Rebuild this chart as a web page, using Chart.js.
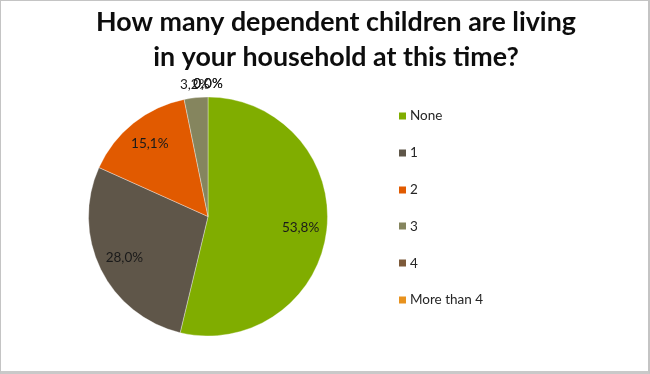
<!DOCTYPE html>
<html>
<head>
<meta charset="utf-8">
<script src="https://cdn.jsdelivr.net/npm/chart.js@4.4.1/dist/chart.umd.min.js"></script>
<style>
  html, body { margin: 0; padding: 0; background: #ffffff; }
  #wrap { position: absolute; left: 0; top: 0; width: 650px; height: 374px; }
  #c { position: absolute; left: 0; top: 0; }
  #frame { position: absolute; left: 0; top: 0; width: 650px; height: 374px; box-sizing: border-box;
           border-left: 1px solid #c4c4c4; border-top: 1px solid #c4c4c4;
           border-right: 2px solid #c4c4c4; border-bottom: 3px solid #c9c9c9; pointer-events: none; }
</style>
</head>
<body>
<div id="wrap">
  <canvas id="c" width="650" height="374"></canvas>
  <div id="frame"></div>
</div>
<script>
// ---- data ----
const titleLines = ['How many dependent children are living', 'in your household at this time?'];
const categories = ['None', '1', '2', '3', '4', 'More than 4'];
const percentages = [53.8, 28.0, 15.1, 3.2, 0.0, 0.0];
const sliceColors = ['#80ad00', '#5f5649', '#e15a00', '#85855e', '#7d5a3a', '#e8921e'];

// ---- font fitting ----
const FONT = 'Lato, "DejaVu Sans", sans-serif';
function fitSize(text, weight, targetWidth) {
  const m = document.createElement('canvas').getContext('2d');
  m.font = weight + ' 20px ' + FONT;
  return 20 * targetWidth / m.measureText(text).width;
}
const titleSize = fitSize(titleLines[0], 'bold', 480);
const legendSize = 13.5;
const labelSize = 13.5;

function fmt(v) { return v.toFixed(1).replace('.', ',') + '%'; }

const decorPlugin = {
  id: 'decor',
  afterDatasetsDraw(chart) {
    const ctx = chart.ctx;
    ctx.save();
    // title
    ctx.fillStyle = '#0d0d0d';
    ctx.font = 'bold ' + titleSize + 'px ' + FONT;
    ctx.textAlign = 'center';
    ctx.textBaseline = 'alphabetic';
    ctx.fillText(titleLines[0], 336, 31);
    ctx.fillText(titleLines[1], 336, 66);

    // data labels
    const meta = chart.getDatasetMeta(0);
    ctx.font = labelSize + 'px ' + FONT;
    ctx.fillStyle = '#1a1a1a';
    ctx.textBaseline = 'middle';
    ctx.textAlign = 'center';
    meta.data.forEach((arc, i) => {
      const p = arc.getProps(['x', 'y', 'startAngle', 'endAngle', 'outerRadius'], true);
      const mid = (p.startAngle + p.endAngle) / 2;
      const inside = percentages[i] >= 5;
      const r = inside ? p.outerRadius * 0.78 : p.outerRadius + 13;
      const x = p.x + Math.cos(mid) * r;
      const y = p.y + Math.sin(mid) * r;
      ctx.fillText(fmt(percentages[i]), x, y);
    });

    // legend
    ctx.font = legendSize + 'px ' + FONT;
    ctx.textAlign = 'left';
    ctx.textBaseline = 'middle';
    categories.forEach((name, i) => {
      const y = 116 + i * 36.8;
      ctx.fillStyle = sliceColors[i];
      ctx.fillRect(399, Math.round(y) - 3.5, 7, 7);
      ctx.fillStyle = '#262626';
      ctx.fillText(name, 410, y);
    });
    ctx.restore();
  }
};

new Chart(document.getElementById('c'), {
  type: 'pie',
  data: {
    labels: categories,
    datasets: [{
      data: percentages,
      backgroundColor: sliceColors,
      borderColor: 'rgba(255,255,255,0.35)',
      borderWidth: 1
    }]
  },
  options: {
    responsive: false,
    animation: false,
    layout: { padding: { top: 96.5, bottom: 37.5, left: 88, right: 322 } },
    plugins: {
      legend: { display: false },
      title: { display: false },
      tooltip: { enabled: false }
    }
  },
  plugins: [decorPlugin]
});
</script>
</body>
</html>
